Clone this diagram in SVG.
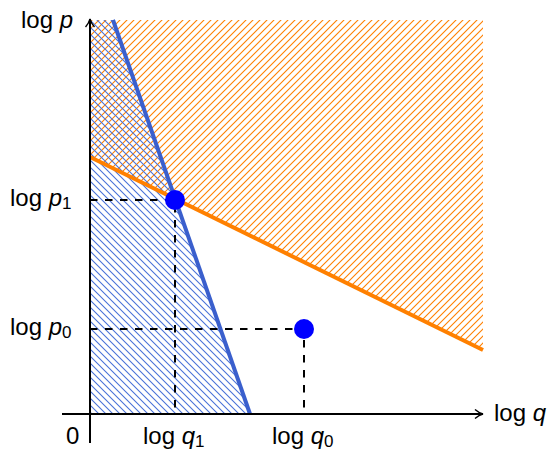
<svg xmlns="http://www.w3.org/2000/svg" width="554" height="454" viewBox="0 0 554 454">
<defs>
<pattern id="hatchO" patternUnits="userSpaceOnUse" width="7" height="7">
<path d="M-1,8 L8,-1 M-1,1 L1,-1 M6,8 L8,6" stroke="#ff8000" stroke-width="1.1"/>
</pattern>
<pattern id="hatchB" patternUnits="userSpaceOnUse" width="7" height="7">
<path d="M-1,-1 L8,8 M-1,6 L1,8 M6,-1 L8,1" stroke="#4a72d8" stroke-width="1.1"/>
</pattern>
<marker id="arr" viewBox="0 0 10 10" refX="9" refY="5" markerWidth="10" markerHeight="10" markerUnits="userSpaceOnUse" orient="auto">
<path d="M1,0.5 Q5,4 9,5 Q5,6 1,9.5" fill="none" stroke="#000" stroke-width="1.4"/>
</marker>
<style>
.lbl{font-family:"Liberation Sans",Arial,sans-serif;font-size:24px;fill:#000}
.it{font-style:italic}
.sub{font-size:17px}
.dash{stroke:#000;stroke-width:2;stroke-dasharray:7.5 7.5;fill:none}
.axis{stroke:#000;stroke-width:2;fill:none}
</style>
</defs>
<g id="regions">
<polygon id="orange-region" points="90,157 483,350 483,20 90,20" fill="url(#hatchO)"/>
<polygon id="blue-region" points="90,20 113,20 250,414 90,414" fill="url(#hatchB)"/>
</g>
<g id="connectors">
<path class="dash" d="M90,200 H175 V414"/>
<path class="dash" d="M90,329 H304 V414"/>
<line x1="90" y1="157" x2="483" y2="350" stroke="#ff8000" stroke-width="4"/>
<line x1="113" y1="20" x2="250" y2="414" stroke="#3a5fcd" stroke-width="4"/>
<line class="axis" x1="62" y1="414" x2="483" y2="414" marker-end="url(#arr)"/>
<line class="axis" x1="90" y1="443" x2="90" y2="19" marker-end="url(#arr)"/>
</g>
<g id="p1"><circle cx="175" cy="200" r="10" fill="#0000ff"/></g>
<g id="p0"><circle cx="304" cy="329" r="10" fill="#0000ff"/></g>
<g id="labels">
<text class="lbl" x="21" y="28">log <tspan class="it">p</tspan></text>
<text class="lbl" x="10" y="206">log <tspan class="it">p</tspan><tspan class="sub" dy="3">1</tspan></text>
<text class="lbl" x="10" y="335">log <tspan class="it">p</tspan><tspan class="sub" dy="3">0</tspan></text>
<text class="lbl" x="66" y="444">0</text>
<text class="lbl" x="143" y="444">log <tspan class="it">q</tspan><tspan class="sub" dy="3">1</tspan></text>
<text class="lbl" x="272" y="444">log <tspan class="it">q</tspan><tspan class="sub" dy="3">0</tspan></text>
<text class="lbl" x="494" y="421">log <tspan class="it">q</tspan></text>
</g>
</svg>
